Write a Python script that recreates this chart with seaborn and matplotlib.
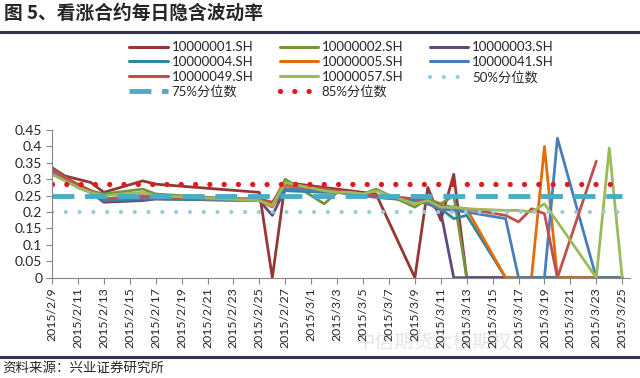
import numpy as np
import pandas as pd
import matplotlib.pyplot as plt
from matplotlib.lines import Line2D
import seaborn as sns

# trading days
dates = ["2015-02-09", "2015-02-10", "2015-02-11", "2015-02-12", "2015-02-13",
         "2015-02-16", "2015-02-17", "2015-02-25", "2015-02-26", "2015-02-27",
         "2015-03-02", "2015-03-03", "2015-03-04", "2015-03-05", "2015-03-06",
         "2015-03-09", "2015-03-10", "2015-03-11", "2015-03-12", "2015-03-13",
         "2015-03-16", "2015-03-17", "2015-03-18", "2015-03-19", "2015-03-20",
         "2015-03-23", "2015-03-24", "2015-03-25"]

codes = ["10000001.SH", "10000002.SH", "10000003.SH", "10000004.SH",
         "10000005.SH", "10000041.SH", "10000049.SH", "10000057.SH"]

iv_01 = [0.335, 0.31, 0.30, 0.29, 0.26, 0.295, 0.285, 0.26, 0.0, 0.29, 0.275, 0.27, 0.265, 0.26,
         0.255, 0.0, 0.275, 0.175, 0.315, 0.0, 0.0, 0.0, 0.0, 0.0, 0.0, 0.0, 0.0, 0.0]
iv_02 = [0.32, 0.30, 0.28, 0.265, 0.255, 0.27, 0.255, 0.235, 0.225, 0.30, 0.225, 0.26, 0.26, 0.255,
         0.27, 0.215, 0.24, 0.225, 0.25, 0.0, 0.0, 0.0, 0.0, 0.0, 0.0, 0.0, 0.0, 0.0]
iv_03 = [0.335, 0.305, 0.28, 0.26, 0.23, 0.235, 0.24, 0.235, 0.19, 0.27, 0.265, 0.26, 0.26, 0.25,
         0.25, 0.24, 0.23, 0.2, 0.0, 0.0, 0.0, 0.0, 0.0, 0.0, 0.0, 0.0, 0.0, 0.0]
iv_04 = [0.325, 0.30, 0.275, 0.26, 0.235, 0.24, 0.24, 0.235, 0.22, 0.265, 0.26, 0.26, 0.26, 0.25,
         0.25, 0.235, 0.225, 0.21, 0.18, 0.19, 0.0, 0.0, 0.0, 0.0, 0.0, 0.0, 0.0, 0.0]
iv_05 = [0.33, 0.305, 0.28, 0.265, 0.24, 0.245, 0.245, 0.235, 0.215, 0.28, 0.265, 0.26, 0.255, 0.25,
         0.245, 0.235, 0.225, 0.21, 0.205, 0.21, 0.0, 0.0, 0.0, 0.40, 0.0, 0.0, 0.0, 0.0]
iv_41 = [0.32, 0.30, 0.275, 0.26, 0.24, 0.245, 0.245, 0.235, 0.225, 0.27, 0.265, 0.26, 0.255, 0.25,
         0.245, 0.235, 0.225, 0.21, 0.205, 0.20, 0.18, 0.0, 0.0, 0.0, 0.425, 0.0, 0.0, 0.0]
iv_49 = [0.33, 0.305, 0.285, 0.265, 0.24, 0.25, 0.245, 0.24, 0.23, 0.285, 0.27, 0.265, 0.26, 0.255,
         0.25, 0.24, 0.235, 0.22, 0.215, 0.21, 0.19, 0.17, 0.21, 0.195, 0.0, 0.355, np.nan, np.nan]
iv_57 = [0.315, 0.295, 0.275, 0.26, 0.25, 0.26, 0.25, 0.235, 0.22, 0.29, 0.265, 0.26, 0.26, 0.255,
         0.265, 0.225, 0.235, 0.215, 0.215, 0.21, 0.205, 0.205, 0.20, 0.225, 0.17, 0.0, 0.395, 0.0]

pct_50 = 0.20
pct_75 = 0.25
pct_85 = 0.285

colors = ["#953735", "#77933C", "#604A7B", "#31859C",
          "#E46C0A", "#4A7EBB", "#C0504D", "#9BBB59"]

all_iv = [iv_01, iv_02, iv_03, iv_04, iv_05, iv_41, iv_49, iv_57]
frames = []
for code, vals in zip(codes, all_iv):
    frames.append(pd.DataFrame({"date": pd.to_datetime(dates), "iv": vals, "code": code}))
df = pd.concat(frames, ignore_index=True)

sns.set_theme(style="white")
plt.rcParams["font.family"] = ["Lato", "Noto Sans CJK SC", "DejaVu Sans"]

fig = plt.figure(figsize=(6.4, 3.78), dpi=100)
ax = fig.add_axes([52 / 640, 1 - 277.7 / 378, 578 / 640, 147.7 / 378])

for code, col in zip(codes, colors):
    sub = df[df["code"] == code].dropna()
    sns.lineplot(data=sub, x="date", y="iv", color=col, linewidth=2.0, ax=ax, legend=False)

d0 = pd.to_datetime(dates[0])
d1 = pd.to_datetime(dates[-1])
ax.plot([d0, d1], [pct_50, pct_50], color="#93CDDD", linewidth=3.0,
        linestyle=(0, (0.01, 3.3)), dash_capstyle="round")
ax.plot([d0, d1], [pct_75, pct_75], color="#4BACC6", linewidth=3.5,
        linestyle=(0, (4.5, 2.2)))
ax.plot([d0, d1], [pct_85, pct_85], color="#E31A1C", linewidth=3.8,
        linestyle=(0, (0.01, 2.7)), dash_capstyle="round")

ax.set_xlim(d0, d0 + pd.Timedelta(days=44.6))
ax.set_ylim(0, 0.45)
yt = [0, 0.05, 0.1, 0.15, 0.2, 0.25, 0.3, 0.35, 0.4, 0.45]
ax.set_yticks(yt)
ax.set_yticklabels(["0", "0.05", "0.1", "0.15", "0.2", "0.25", "0.3", "0.35", "0.4", "0.45"])
ticks = pd.date_range(d0, d1, freq="2D")
ax.set_xticks(ticks)
ax.set_xticklabels([f"{t.year}/{t.month}/{t.day}" for t in ticks], rotation=90)
ax.set_xlabel("")
ax.set_ylabel("")
ax.tick_params(axis="y", labelsize=10, length=4, width=0.8, color="#868686", pad=3, left=True)
ax.tick_params(axis="x", labelsize=8.8, length=4, width=0.8, color="#868686", pad=3, bottom=True)
for s in ["top", "right"]:
    ax.spines[s].set_visible(False)
for s in ["left", "bottom"]:
    ax.spines[s].set_color("#868686")
    ax.spines[s].set_linewidth(0.8)

# legend, row-major order as in the reference
h = [Line2D([], [], color=c, linewidth=2.2) for c in colors]
h50 = Line2D([], [], color="#93CDDD", linewidth=3.0, linestyle=(0, (0.01, 3.3)), dash_capstyle="round")
h75 = Line2D([], [], color="#4BACC6", linewidth=3.5, linestyle=(0, (4.5, 2.2)))
h85 = Line2D([], [], color="#E31A1C", linewidth=3.8, linestyle=(0, (0.01, 2.7)), dash_capstyle="round")
labels = codes + ["50%分位数", "75%分位数", "85%分位数"]
handles = h + [h50, h75, h85]
order = [0, 3, 6, 9, 1, 4, 7, 10, 2, 5, 8]
fig.legend([handles[i] for i in order], [labels[i] for i in order],
           loc="upper left", bbox_to_anchor=(124 / 640, 1 - 36 / 378), ncol=3,
           frameon=False, fontsize=9.5, handlelength=2.9, handletextpad=0.3,
           columnspacing=2.0, labelspacing=0.2, borderaxespad=0)

fig.text(4 / 640, 1 - 13 / 378, "图 5、看涨合约每日隐含波动率", fontsize=13.5, fontweight="bold",
         va="center", ha="left", family=["Noto Sans CJK SC", "DejaVu Sans"])
fig.add_artist(Line2D([0, 1], [1 - 32 / 378, 1 - 32 / 378], color="#33334F", linewidth=2.2))
fig.add_artist(Line2D([0, 1], [1 - 357 / 378, 1 - 357 / 378], color="#33334F", linewidth=2.2))
fig.text(2 / 640, 1 - 368 / 378, "资料来源：兴业证券研究所", fontsize=9.7, va="center", ha="left",
         family=["Noto Sans CJK SC", "DejaVu Sans"])
fig.text(355 / 640, 1 - 342 / 378, "中信期货太极期权", fontsize=14, color="#CCCCCC", alpha=0.5,
         va="center", ha="left", family=["Noto Sans CJK SC", "DejaVu Sans"], zorder=-1)

fig.savefig("out.png", dpi=100, facecolor="white")
